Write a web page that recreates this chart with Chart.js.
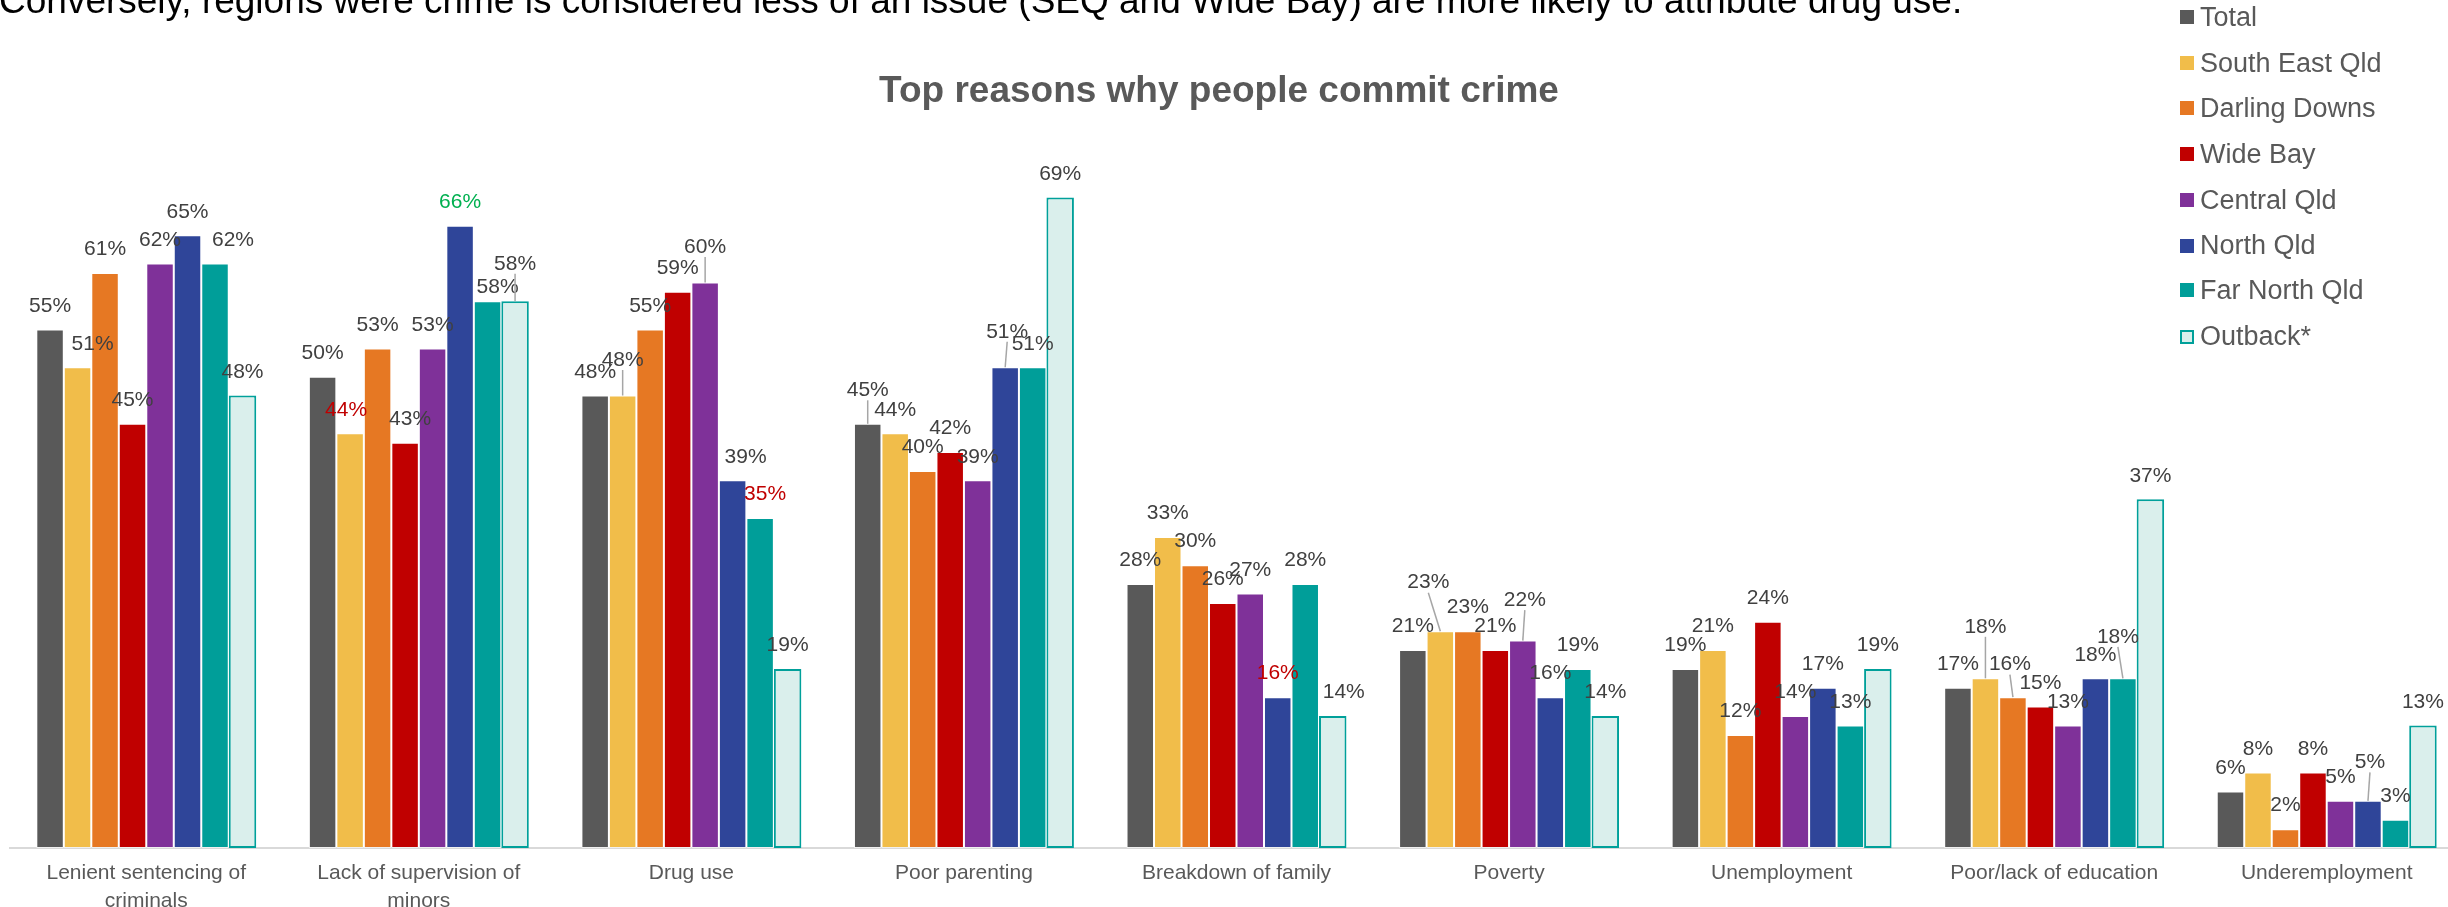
<!DOCTYPE html>
<html><head><meta charset="utf-8">
<script src="https://cdn.jsdelivr.net/npm/chart.js@4.4.1/dist/chart.umd.min.js"></script>
<style>
html,body{margin:0;padding:0;background:#fff;overflow:hidden;width:2448px;height:907px;}
#wrap{position:absolute;left:0;top:0;width:2470px;height:907px;}
.sentence{position:absolute;left:-1px;top:-18px;font:37px "Liberation Sans",Arial,sans-serif;line-height:37px;color:#000;white-space:nowrap;}
.title{position:absolute;left:0;width:2438px;top:71px;text-align:center;font:bold 37px "Liberation Sans",Arial,sans-serif;line-height:37px;color:#595959;}
#legend{position:absolute;left:2180px;top:0;width:268px;height:360px;}
.li{position:absolute;left:0;height:28px;display:flex;align-items:center;white-space:nowrap;font:27px "Liberation Sans",Arial,sans-serif;color:#595959;}
.sw{width:14px;height:14px;margin-right:6px;box-sizing:border-box;flex:none;}
</style>
</head><body>
<div id="wrap"><canvas id="c"></canvas></div>
<div class="sentence">Conversely, regions were crime is considered less of an issue (SEQ and Wide Bay) are more likely to attribute drug use.</div>
<div class="title">Top reasons why people commit crime</div>
<div id="legend"></div>
<script>
const categories = [["Lenient sentencing of","criminals"],["Lack of supervision of","minors"],"Drug use","Poor parenting","Breakdown of family","Poverty","Unemployment","Poor/lack of education","Underemployment"];
const seriesNames = ["Total","South East Qld","Darling Downs","Wide Bay","Central Qld","North Qld","Far North Qld","Outback*"];
const total        = [55,50,48,45,28,21,19,17,6];
const southEastQld = [51,44,48,44,33,23,21,18,8];
const darlingDowns = [61,53,55,40,30,23,12,16,2];
const wideBay      = [45,43,59,42,26,21,24,15,8];
const centralQld   = [62,53,60,39,27,22,14,13,5];
const northQld     = [65,66,39,51,16,16,17,18,5];
const farNorthQld  = [62,58,35,51,28,19,13,18,3];
const outback      = [48,58,19,69,14,14,19,37,13];

const seriesData = [total,southEastQld,darlingDowns,wideBay,centralQld,northQld,farNorthQld,outback];
const fillColors = ["#595959","#F1BD4A","#E67823","#C00000","#7F3199","#2F4599","#009E99","#DAEFEC"];

// label styling (series,category) -> colour
const labelColors = {"1,1":"#C00000","5,1":"#00B050","6,2":"#C00000","5,4":"#C00000"};
// label nudges (series,category) -> [dx, dy, leaderLine]
const labelOffsets = {
  "1,0":[15,0,false],"6,0":[18,0,false],
  "1,1":[-4,0,false],"3,1":[5,0,false],"6,1":[10,9,false],"7,1":[0,-14,true],
  "1,2":[0,-12,true],"4,2":[0,-12,true],"5,2":[13,0,false],"6,2":[5,0,false],
  "0,3":[0,-10,true],"5,3":[2,-12,true],
  "7,4":[11,0,false],
  "1,5":[-12,-25,true],"4,5":[2,-17,true],
  "1,7":[0,-28,true],"2,7":[-3,-9,true],"6,7":[-5,-18,true],
  "5,8":[2,-15,true]
};

const datasets = seriesNames.map((name,i)=>({
  label:name,
  data:seriesData[i],
  backgroundColor:fillColors[i],
  borderColor: i===7 ? "#00A09A" : "rgba(255,255,255,0.6)",
  borderWidth: i===7 ? 2 : 1,
  borderSkipped: false,
  categoryPercentage:0.807,
  barPercentage:1.0
}));

const labelPlugin = {
  id:'barLabels',
  afterDatasetsDraw(chart){
    const ctx = chart.ctx;
    ctx.save();
    ctx.font = '21px "Liberation Sans", Arial, sans-serif';
    ctx.textAlign = 'center';
    ctx.textBaseline = 'middle';
    chart.data.datasets.forEach((ds,si)=>{
      const meta = chart.getDatasetMeta(si);
      meta.data.forEach((bar,ci)=>{
        const key = si+','+ci;
        const off = labelOffsets[key] || [0,0,false];
        const x = bar.x + off[0];
        const y = bar.y - 23.5 + off[1];
        if(off[2]){
          ctx.strokeStyle = '#A6A6A6';
          ctx.lineWidth = 1.5;
          ctx.beginPath();
          ctx.moveTo(x, y + 10);
          ctx.lineTo(bar.x, bar.y);
          ctx.stroke();
        }
        ctx.fillStyle = labelColors[key] || '#404040';
        ctx.fillText(ds.data[ci] + '%', x, y);
      });
    });
    ctx.restore();
  }
};

new Chart(document.getElementById('c'), {
  type:'bar',
  data:{labels:categories, datasets:datasets},
  options:{
    responsive:true,
    maintainAspectRatio:false,
    animation:false,
    layout:{padding:{top:141,left:10,right:7,bottom:0}},
    plugins:{legend:{display:false},tooltip:{enabled:false},title:{display:false}},
    scales:{
      x:{
        grid:{display:false,drawTicks:false},
        border:{display:true,color:'#D9D9D9',width:2},
        ticks:{color:'#595959',font:{family:'"Liberation Sans", Arial, sans-serif',size:21,lineHeight:1.3},padding:12,maxRotation:0,autoSkip:false},
        afterFit(scale){ scale.height = 59; }
      },
      y:{display:false,min:0,max:75}
    }
  },
  plugins:[labelPlugin]
});

// HTML legend built from the series
const legendCenters = [17.3,63.3,108.3,154.3,200,245.7,290,336.7];
const lg = document.getElementById('legend');
seriesNames.forEach((name,i)=>{
  const row = document.createElement('div');
  row.className = 'li';
  row.style.top = (legendCenters[i]-14)+'px';
  const sw = document.createElement('span');
  sw.className = 'sw';
  sw.style.background = fillColors[i];
  if(i===7){ sw.style.border = '2px solid #00A09A'; }
  const tx = document.createElement('span');
  tx.textContent = name;
  row.appendChild(sw); row.appendChild(tx);
  lg.appendChild(row);
});
</script>
</body></html>
